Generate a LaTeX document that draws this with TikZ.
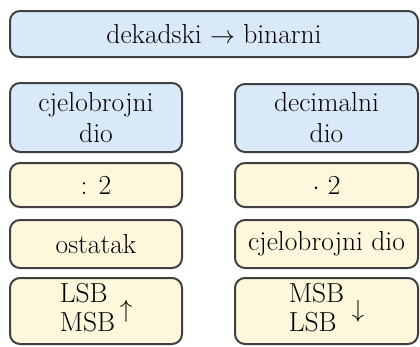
\documentclass[tikz,border=0pt]{standalone}
\definecolor{boxline}{HTML}{404040}
\definecolor{blueF}{HTML}{DAE9F7}
\definecolor{yellowF}{HTML}{FDF8DC}
\begin{document}
\begin{tikzpicture}[x=1pt,y=-1pt,
  box/.style={draw=boxline, line width=2pt, rounded corners=10pt, inner sep=0pt,
    align=center, font=\fontsize{27.5}{31}\selectfont},
  bbox/.style={box, fill=blueF},
  ybox/.style={box, fill=yellowF}]
\useasboundingbox (0,0) rectangle (420,346);
\node[bbox, minimum width=408pt, minimum height=46pt] (top) at (214,34) {dekadski $\rightarrow$ binarni};
\node[bbox, minimum width=172pt, minimum height=69pt] (l2) at (96,117.5) {cjelobrojni\\dio};
\node[bbox, minimum width=183pt, minimum height=68pt] (r2) at (326.5,118) {decimalni\\dio};
\node[ybox, minimum width=172pt, minimum height=44pt] (l3) at (96,185) {: 2};
\node[ybox, minimum width=183pt, minimum height=44pt] (r3) at (326.5,185) {$\cdot$ 2};
\node[ybox, minimum width=172pt, minimum height=48pt] (l4) at (96,244) {ostatak};
\node[ybox, minimum width=183pt, minimum height=48pt] (r4) at (326.5,244) {cjelobrojni dio};
\node[ybox, minimum width=172pt, minimum height=66pt] (l5) at (96,311) {\raisebox{-3pt}{\begin{tabular}{@{}l@{}}LSB\\[-2pt]MSB\end{tabular}\,$\uparrow$}};
\node[ybox, minimum width=183pt, minimum height=66pt] (r5) at (326.5,311) {\raisebox{-3pt}{\begin{tabular}{@{}l@{}}MSB\\[-2pt]LSB\end{tabular}\;$\downarrow$}};
\end{tikzpicture}
\end{document}
